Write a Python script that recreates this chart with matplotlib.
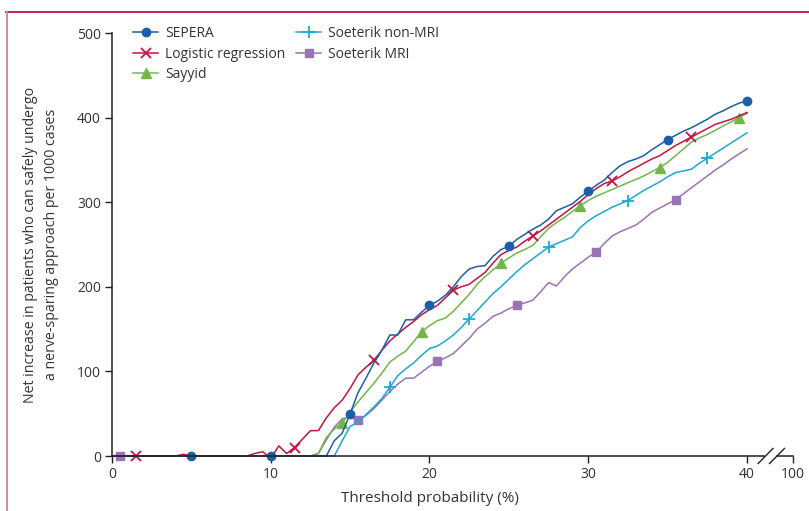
import numpy as np
import matplotlib
matplotlib.use('Agg')
import matplotlib.pyplot as plt
from matplotlib.lines import Line2D

plt.rcParams['font.family'] = ['Open Sans', 'DejaVu Sans']

# threshold probability grid (%), step 0.5
thresholds = np.arange(0, 40.5, 0.5)

# net benefit per 1000 cases
sepera = [0] * 24 + [
    0, 0, 0, 0, 18, 27, 50, 75, 92, 110,
    125, 143, 143, 161, 161, 170, 178, 183, 190, 200,
    212, 221, 224, 225, 236, 244, 248, 256, 262, 268,
    273, 280, 290, 294, 298, 306, 313, 320, 326, 335,
    343, 348, 351, 355, 362, 368, 374, 379, 384, 388,
    393, 398, 404, 408, 413, 417, 420]
logistic = [0, 0, 0, 0, 0, 0, 0, 0, 0, 2, 0, 0,
            0, 0, 0, 0, 0, 0, 3, 5, -3, 12, 3, 10] + [
    20, 30, 30, 45, 57, 66, 80, 96, 105, 113,
    125, 136, 144, 152, 159, 167, 173, 178, 187, 196,
    200, 203, 210, 217, 228, 238, 243, 247, 254, 260,
    266, 273, 280, 287, 294, 301, 309, 316, 322, 325,
    330, 336, 341, 346, 351, 355, 361, 367, 372, 377,
    382, 387, 392, 395, 398, 402, 406]
sayyid = [0] * 24 + [
    0, 0, 3, 22, 32, 39, 52, 64, 75, 86,
    98, 111, 118, 124, 135, 147, 154, 160, 163, 171,
    181, 191, 203, 212, 220, 228, 234, 240, 244, 249,
    259, 269, 276, 282, 289, 296, 302, 307, 311, 315,
    319, 323, 327, 331, 336, 341, 347, 355, 363, 371,
    376, 380, 385, 390, 395, 400, 405]
soeterik_non_mri = [0] * 24 + [
    0, 0, 0, 0, 0, 18, 35, 40, 49, 58,
    68, 81, 95, 103, 110, 119, 127, 130, 136, 143,
    152, 162, 172, 182, 192, 200, 209, 218, 226, 233,
    240, 247, 251, 255, 259, 270, 278, 284, 289, 294,
    298, 302, 308, 314, 319, 324, 330, 335, 337, 339,
    346, 352, 358, 364, 370, 376, 382]
soeterik_mri = [0] * 24 + [
    0, 0, 3, 19, 34, 44, 46, 42, 48, 56,
    66, 76, 85, 92, 92, 99, 106, 112, 116, 121,
    130, 139, 150, 157, 165, 169, 174, 178, 181, 184,
    194, 205, 201, 212, 221, 228, 235, 241, 251, 260,
    265, 269, 273, 280, 288, 293, 298, 303, 310, 317,
    324, 331, 338, 344, 351, 357, 363]

# thresholds where each curve carries a marker
sepera_marks = [5, 10, 15, 20, 25, 30, 35, 40]
logistic_marks = [1.5, 11.5, 16.5, 21.5, 26.5, 31.5, 36.5]
sayyid_marks = [14.5, 19.5, 24.5, 29.5, 34.5, 39.5]
non_mri_marks = [17.5, 22.5, 27.5, 32.5, 37.5]
mri_marks = [0.5, 15.5, 20.5, 25.5, 30.5, 35.5]

x_ticks = [0, 10, 20, 30, 40]
x_tick_labels = ['0', '10', '20', '30', '40', '100']
y_ticks = [0, 100, 200, 300, 400, 500]

series = [
    ('SEPERA', sepera, sepera_marks, '#1d5ea8', 'o', 6, 1.0),
    ('Logistic regression', logistic, logistic_marks, '#c8123f', 'x', 7, 1.3),
    ('Sayyid', sayyid, sayyid_marks, '#72b64a', '^', 7.5, 1.0),
    ('Soeterik non-MRI', soeterik_non_mri, non_mri_marks, '#1ea8d2', '+', 9, 1.3),
    ('Soeterik MRI', soeterik_mri, mri_marks, '#9a73b6', 's', 5.5, 1.0),
]

ink = '#231f20'
text_col = '#333333'
x_break_pos = 42.88  # where the "100" tick sits after the axis break

fig = plt.figure(figsize=(8.09, 5.11), dpi=100)
ax = fig.add_axes([112 / 809, 1 - 456 / 511, (792.7 - 112) / 809, 423 / 511])

# order so SEPERA is drawn on top
for name, vals, marks, col, mk, ms, mew in reversed(series):
    idx = [int(round(m * 2)) for m in marks]
    ax.plot(thresholds, vals, color=col, lw=1.1, marker=mk, markersize=ms,
            markeredgewidth=mew, markevery=idx, clip_on=False)

ax.set_xlim(0, x_break_pos)
ax.set_ylim(0, 500)

for s in ['top', 'right']:
    ax.spines[s].set_visible(False)
for s in ['left', 'bottom']:
    ax.spines[s].set_color(ink)
    ax.spines[s].set_linewidth(1.1)
ax.spines['bottom'].set_bounds(0, 41.05)

# axis break: continuation segment and the two slashes
ax.plot([41.9, x_break_pos], [0, 0], color=ink, lw=1.1, clip_on=False)
for cx in [41.17, 41.89]:
    ax.plot([cx - 0.47, cx + 0.47], [-8.9, 8.9], color=ink, lw=1.0, clip_on=False)

ax.set_xticks(x_ticks + [x_break_pos])
ax.set_xticklabels(x_tick_labels)
ax.set_yticks(y_ticks)
ax.tick_params(direction='out', length=5, width=1.0, color=ink,
               labelsize=10, labelcolor=text_col, pad=3)

ax.set_xlabel('Threshold probability (%)', fontsize=11, color=text_col)
ax.xaxis.set_label_coords(0.467, -0.082)
ax.set_ylabel('Net increase in patients who can safely undergo\n'
              'a nerve-sparing approach per 1000 cases',
              fontsize=10.2, color=text_col, linespacing=1.5)
ax.yaxis.set_label_coords(-0.078, 0.5)

handles = [Line2D([0], [0], color=col, lw=1.1, marker=mk, markersize=ms,
                  markeredgewidth=mew)
           for name, vals, marks, col, mk, ms, mew in series]
labels = [s[0] for s in series]
leg = ax.legend(handles, labels, ncol=2, loc='upper left', frameon=False,
                bbox_to_anchor=(133 / 809, 1 - 26 / 511),
                bbox_transform=fig.transFigure, borderpad=0, borderaxespad=0,
                handlelength=1.8, handletextpad=0.5, labelspacing=0.4,
                columnspacing=0.8, fontsize=10)
for t in leg.get_texts():
    t.set_color(text_col)

# page frame lines
fig.add_artist(Line2D([6 / 809, 1], [1 - 12 / 511] * 2, color='#c0103e', lw=1.3))
fig.add_artist(Line2D([6.5 / 809] * 2, [0, 1 - 12 / 511], color='#e27a9a', lw=1.3))

fig.savefig('out.png', dpi=100)
